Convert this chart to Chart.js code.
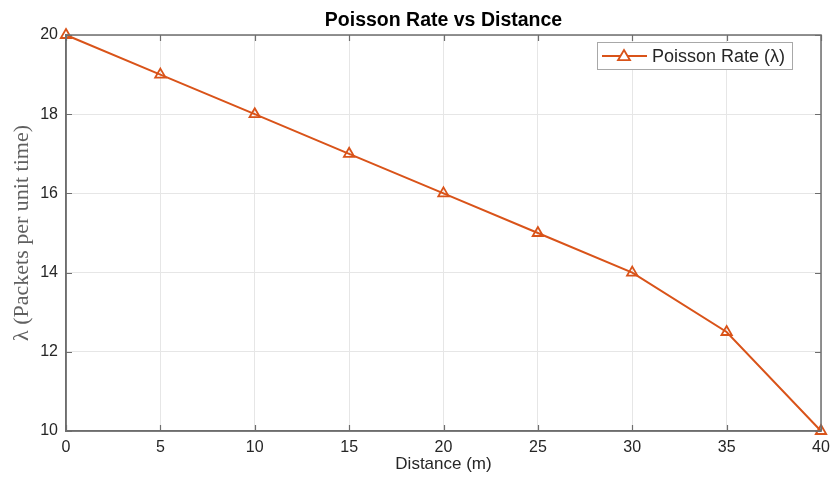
<!DOCTYPE html>
<html>
<head>
<meta charset="utf-8">
<script src="https://cdn.jsdelivr.net/npm/chart.js@4/dist/chart.umd.min.js"></script>
<style>
html,body{margin:0;padding:0;background:#fff;}
#wrap{width:833px;height:489px;position:relative;}
</style>
</head>
<body>
<div id="wrap"><canvas id="c" width="833" height="489"></canvas></div>
<script>
const distances = [0, 5, 10, 15, 20, 25, 30, 35, 40];
const poissonRate = [20, 19, 18, 17, 16, 15, 14, 12.5, 10];
const xTicks = [0, 5, 10, 15, 20, 25, 30, 35, 40];
const yTicks = [10, 12, 14, 16, 18, 20];
const seriesLabel = 'Poisson Rate (\u03bb)';
const titleText = 'Poisson Rate vs Distance';
const xLabel = 'Distance (m)';
const yLabel = '\u03bb (Packets per unit time)';

const ORANGE = '#D95319';
const AXIS = '#6e6e6e';
const TEXT = '#262626';

const boxAndTicks = {
  id: 'boxAndTicks',
  afterDatasetsDraw(chart) {
    const {ctx, chartArea: a, scales} = chart;
    ctx.save();
    ctx.strokeStyle = AXIS;
    ctx.lineWidth = 1.2;
    ctx.beginPath();
    xTicks.forEach(v => {
      const px = Math.round(scales.x.getPixelForValue(v)) + 0.5;
      ctx.moveTo(px, a.bottom); ctx.lineTo(px, a.bottom - 6);
      ctx.moveTo(px, a.top); ctx.lineTo(px, a.top + 6);
    });
    yTicks.forEach(v => {
      const py = Math.round(scales.y.getPixelForValue(v)) + 0.5;
      ctx.moveTo(a.left, py); ctx.lineTo(a.left + 6, py);
      ctx.moveTo(a.right, py); ctx.lineTo(a.right - 6, py);
    });
    ctx.stroke();
    ctx.lineWidth = 1.5;
    ctx.strokeRect(a.left, a.top, a.right - a.left, a.bottom - a.top);
    ctx.restore();
  },
  afterDraw(chart) {
    const {ctx} = chart;
    // legend
    const lx = 597, ly = 42, lw = 195, lh = 27;
    ctx.save();
    ctx.fillStyle = '#ffffff';
    ctx.fillRect(lx, ly, lw, lh);
    ctx.strokeStyle = '#a8a8a8';
    ctx.lineWidth = 1;
    ctx.strokeRect(lx + 0.5, ly + 0.5, lw, lh);
    const cy = ly + lh / 2 + 0.5;
    ctx.strokeStyle = ORANGE;
    ctx.lineWidth = 1.8;
    ctx.beginPath();
    ctx.moveTo(lx + 5, cy); ctx.lineTo(lx + 50, cy);
    ctx.stroke();
    const tx = lx + 27, s = 6;
    ctx.beginPath();
    ctx.moveTo(tx, cy - s);
    ctx.lineTo(tx + s, cy + s * 0.7);
    ctx.lineTo(tx - s, cy + s * 0.7);
    ctx.closePath();
    ctx.fillStyle = '#fff';
    ctx.fill();
    ctx.stroke();
    ctx.fillStyle = TEXT;
    ctx.font = '18px "Liberation Sans", Arial, sans-serif';
    ctx.textBaseline = 'middle';
    ctx.textAlign = 'left';
    ctx.fillText(seriesLabel, lx + 55, cy + 1);
    ctx.restore();
  }
};

new Chart(document.getElementById('c'), {
  type: 'line',
  data: {
    datasets: [{
      label: seriesLabel,
      data: distances.map((d, i) => ({x: d, y: poissonRate[i]})),
      borderColor: ORANGE,
      backgroundColor: '#ffffff',
      borderWidth: 2,
      pointStyle: 'triangle',
      pointRadius: 6,
      pointHoverRadius: 6,
      pointBorderWidth: 1.8,
      pointBorderColor: ORANGE,
      pointBackgroundColor: 'rgba(255,255,255,0)',
      tension: 0,
      clip: false
    }]
  },
  options: {
    responsive: false,
    animation: false,
    events: [],
    layout: {padding: {left: 0, right: 12, top: 0, bottom: 0}},
    plugins: {
      legend: {display: false},
      tooltip: {enabled: false},
      title: {
        display: true,
        text: titleText,
        fullSize: false,
        color: '#000',
        font: {family: '"Liberation Sans", Arial, sans-serif', size: 19.5, weight: 'bold', lineHeight: 1.2},
        padding: {top: 8.5, bottom: 3.1}
      }
    },
    scales: {
      x: {
        type: 'linear',
        min: 0, max: 40,
        afterFit(s) { s.height = 58; s.paddingLeft = 0; s.paddingRight = 0; },
        afterBuildTicks(s) { s.ticks = xTicks.map(v => ({value: v})); },
        grid: {color: '#e6e6e6', lineWidth: 1, drawTicks: false},
        border: {display: true, color: AXIS, width: 1.5},
        ticks: {color: TEXT, font: {family: '"Liberation Sans", Arial, sans-serif', size: 16}, padding: 7, maxRotation: 0},
        title: {display: true, text: xLabel, color: TEXT, font: {family: '"Liberation Sans", Arial, sans-serif', size: 17}, padding: {top: 0, bottom: 14}}
      },
      y: {
        type: 'linear',
        min: 10, max: 20,
        afterFit(s) { s.width = 66; s.paddingTop = 0; s.paddingBottom = 0; },
        afterBuildTicks(s) { s.ticks = yTicks.map(v => ({value: v})); },
        grid: {color: '#e6e6e6', lineWidth: 1, drawTicks: false},
        border: {display: true, color: AXIS, width: 1.5},
        ticks: {color: TEXT, font: {family: '"Liberation Sans", Arial, sans-serif', size: 16}, padding: 8},
        title: {display: true, text: yLabel, color: '#606060', font: {family: '"Liberation Serif", "DejaVu Serif", serif', size: 22}, padding: {top: 9, bottom: 0}}
      }
    }
  },
  plugins: [boxAndTicks]
});
</script>
</body>
</html>
